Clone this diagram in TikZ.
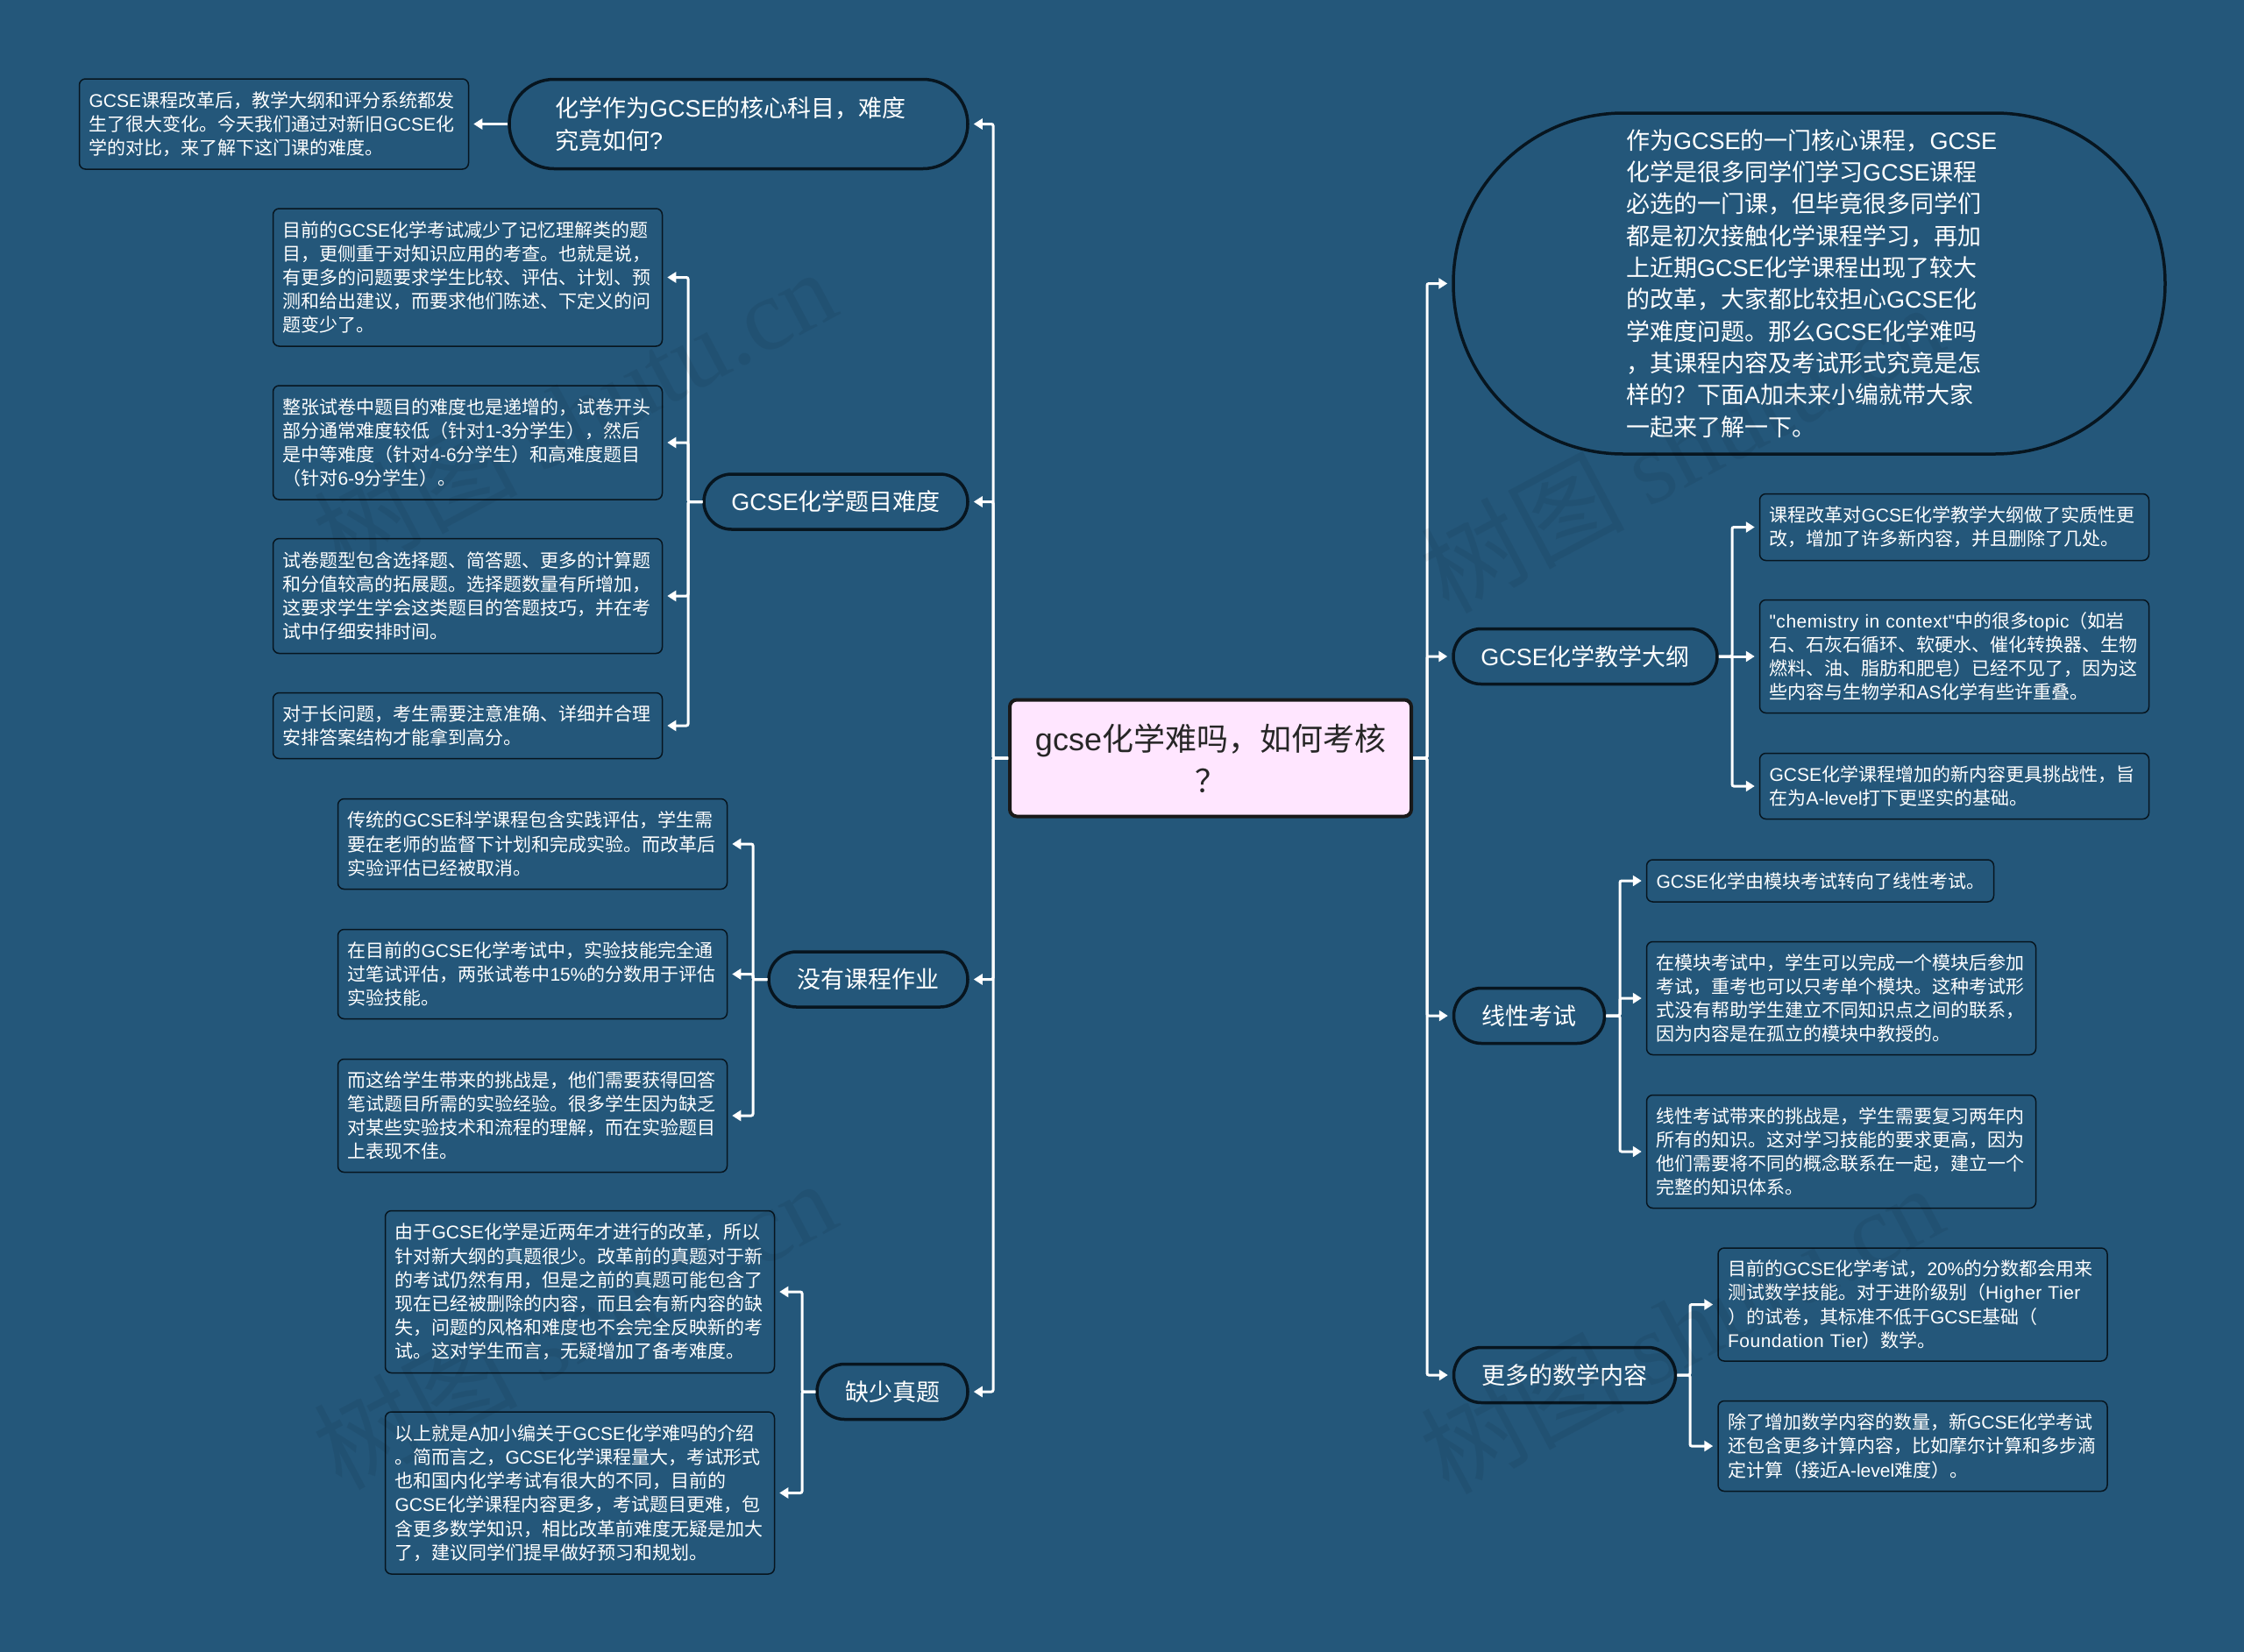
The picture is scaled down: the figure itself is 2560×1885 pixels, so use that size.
\documentclass[tikz,border=0pt]{standalone}
\usepackage{fontspec}
\usetikzlibrary{arrows.meta}
\setmainfont{Noto Sans CJK SC}
\newfontfamily\latfont{Liberation Sans}
\newfontfamily\latwide[WordSpace=1.8,LetterSpace=2.5]{Liberation Sans}
\newfontfamily\markfont{Liberation Serif}
\newcommand{\lat}[1]{{\latfont #1}}
\newcommand{\latw}[1]{{\latwide #1}}
\newcommand{\gc}{\lat{GCSE}}
\definecolor{bgblue}{HTML}{24577A}
\definecolor{inkline}{HTML}{07151F}
\definecolor{rootfill}{HTML}{FFE6FF}
\tikzset{
  leaf/.style={rectangle, draw=inkline, line width=1.5pt, rounded corners=7pt, fill=bgblue, text=white,
    inner xsep=11pt, inner ysep=0pt, align=left, text width=422pt, font=\fontsize{21}{27.2}\selectfont},
  pill/.style={rectangle, draw=inkline, line width=3.5pt, rounded corners=#1, fill=bgblue, text=white,
    inner sep=0pt, align=left, font=\fontsize{27}{36.3}\selectfont},
  wire/.style={draw=white, line width=3pt, rounded corners=2pt, shorten >=5pt, -{Triangle[length=10pt,width=12pt]}},
  mark text/.style={text=black, opacity=0.06, rotate=28, font=\fontsize{116}{116}\selectfont}
}
\begin{document}
\begin{tikzpicture}[x=1pt,y=-1pt]
\useasboundingbox (0,0) rectangle (2560,1885);
\fill[bgblue] (0,0) rectangle (2560,1885);

\coordinate (trunkL) at (1133,0);
\coordinate (trunkR) at (1628,0);
\coordinate (forkQ2) at (785,0);
\coordinate (forkQ3) at (859,0);
\coordinate (forkQ4) at (915,0);
\coordinate (forkR2) at (1976,0);
\coordinate (forkR3) at (1848,0);
\coordinate (forkR4) at (1928,0);

\node[rectangle, draw=black!90, line width=4pt, rounded corners=8pt, fill=rootfill, text=black!85, align=center,
  minimum width=458pt, minimum height=133pt, inner sep=0pt, font=\fontsize{36}{48}\selectfont] (root) at (1381,865)
  {\lat{gcse}化学难吗，如何考核\\？};

% left side
\node[pill=51pt, text width=419pt, minimum width=523pt, minimum height=102pt] (q1) at (842.5,141.5)
  {化学作为\gc{}的核心科目，难度\\究竟如何\lat{?}};
\node[leaf, minimum height=103pt] (q1a) at (312.5,141.5)
  {\gc{}课程改革后，教学大纲和评分系统都发\\生了很大变化。今天我们通过对新旧\gc{}化\\学的对比，来了解下这门课的难度。};

\node[pill=31.5pt, align=center, minimum width=301pt, minimum height=63pt] (q2) at (953.5,572.5) {\gc{}化学题目难度};
\node[leaf, minimum height=157pt] (q2a) at (533.5,316.5)
  {目前的\gc{}化学考试减少了记忆理解类的题\\目，更侧重于对知识应用的考查。也就是说，\\有更多的问题要求学生比较、评估、计划、预\\测和给出建议，而要求他们陈述、下定义的问\\题变少了。};
\node[leaf, minimum height=130pt] (q2b) at (533.5,505)
  {整张试卷中题目的难度也是递增的，试卷开头\\部分通常难度较低（针对\lat{1-3}分学生），然后\\是中等难度（针对\lat{4-6}分学生）和高难度题目\\（针对\lat{6-9}分学生）。};
\node[leaf, minimum height=131pt] (q2c) at (533.5,680)
  {试卷题型包含选择题、简答题、更多的计算题\\和分值较高的拓展题。选择题数量有所增加，\\这要求学生学会这类题目的答题技巧，并在考\\试中仔细安排时间。};
\node[leaf, minimum height=75pt] (q2d) at (533.5,828)
  {对于长问题，考生需要注意准确、详细并合理\\安排答案结构才能拿到高分。};

\node[pill=31.5pt, align=center, minimum width=227pt, minimum height=63pt] (q3) at (990.5,1117.5) {没有课程作业};
\node[leaf, minimum height=103pt] (q3a) at (607.5,963)
  {传统的\gc{}科学课程包含实践评估，学生需\\要在老师的监督下计划和完成实验。而改革后\\实验评估已经被取消。};
\node[leaf, minimum height=102pt] (q3b) at (607.5,1111.5)
  {在目前的\gc{}化学考试中，实验技能完全通\\过笔试评估，两张试卷中\lat{15\%}的分数用于评估\\实验技能。};
\node[leaf, minimum height=129pt] (q3c) at (607.5,1273)
  {而这给学生带来的挑战是，他们需要获得回答\\笔试题目所需的实验经验。很多学生因为缺乏\\对某些实验技术和流程的理解，而在实验题目\\上表现不佳。};

\node[pill=31.5pt, align=center, minimum width=172pt, minimum height=63pt] (q4) at (1018,1588) {缺少真题};
\node[leaf, minimum height=185pt] (q4a) at (661.5,1474)
  {由于\gc{}化学是近两年才进行的改革，所以\\针对新大纲的真题很少。改革前的真题对于新\\的考试仍然有用，但是之前的真题可能包含了\\现在已经被删除的内容，而且会有新内容的缺\\失，问题的风格和难度也不会完全反映新的考\\试。这对学生而言，无疑增加了备考难度。};
\node[leaf, minimum height=185pt] (q4b) at (661.5,1703.5)
  {以上就是\lat{A}加小编关于\gc{}化学难吗的介绍\\。简而言之，\gc{}化学课程量大，考试形式\\也和国内化学考试有很大的不同，目前的\\\gc{}化学课程内容更多，考试题目更难，包\\含更多数学知识，相比改革前难度无疑是加大\\了，建议同学们提早做好预习和规划。};

% right side
\node[pill=194pt, text width=418pt, minimum width=812pt, minimum height=389pt] (r1) at (2064,323.5)
  {作为\gc{}的一门核心课程，\gc{}\\化学是很多同学们学习\gc{}课程\\必选的一门课，但毕竟很多同学们\\都是初次接触化学课程学习，再加\\上近期\gc{}化学课程出现了较大\\的改革，大家都比较担心\gc{}化\\学难度问题。那么\gc{}化学难吗\\，其课程内容及考试形式究竟是怎\\样的？下面\lat{A}加未来小编就带大家\\一起来了解一下。};

\node[pill=31.5pt, align=center, minimum width=301pt, minimum height=63pt] (r2) at (1808.5,749) {\gc{}化学教学大纲};
\node[leaf, minimum height=76pt] (r2a) at (2229.5,601.5)
  {课程改革对\gc{}化学教学大纲做了实质性更\\改，增加了许多新内容，并且删除了几处。};
\node[leaf, minimum height=129pt] (r2b) at (2229.5,749)
  {\latw{"chemistry in context"}中的很多\latw{topic}（如岩\\石、石灰石循环、软硬水、催化转换器、生物\\燃料、油、脂肪和肥皂）已经不见了，因为这\\些内容与生物学和\lat{AS}化学有些许重叠。};
\node[leaf, minimum height=75pt] (r2c) at (2229.5,897)
  {\gc{}化学课程增加的新内容更具挑战性，旨\\在为\lat{A-level}打下更坚实的基础。};

\node[pill=31.5pt, align=center, minimum width=172pt, minimum height=63pt] (r3) at (1744.5,1159) {线性考试};
\node[leaf, text width=374pt, minimum height=48pt] (r3a) at (2076.5,1005)
  {\gc{}化学由模块考试转向了线性考试。};
\node[leaf, minimum height=129pt] (r3b) at (2100.5,1139)
  {在模块考试中，学生可以完成一个模块后参加\\考试，重考也可以只考单个模块。这种考试形\\式没有帮助学生建立不同知识点之间的联系，\\因为内容是在孤立的模块中教授的。};
\node[leaf, minimum height=129pt] (r3c) at (2100.5,1314)
  {线性考试带来的挑战是，学生需要复习两年内\\所有的知识。这对学习技能的要求更高，因为\\他们需要将不同的概念联系在一起，建立一个\\完整的知识体系。};

\node[pill=31.5pt, align=center, minimum width=253pt, minimum height=63pt] (r4) at (1785,1569) {更多的数学内容};
\node[leaf, minimum height=129pt] (r4a) at (2182,1488.5)
  {目前的\gc{}化学考试，\lat{20\%}的分数都会用来\\测试数学技能。对于进阶级别（\latw{Higher Tier}\\）的试卷，其标准不低于\gc{}基础（\\\latw{Foundation Tier}）数学。};
\node[leaf, minimum height=103pt] (r4b) at (2182,1650)
  {除了增加数学内容的数量，新\gc{}化学考试\\还包含更多计算内容，比如摩尔计算和多步滴\\定计算（接近\lat{A-level}难度）。};

% connectors
\draw[wire] (root.west) -- (trunkL |- root.west) |- (q1.east);
\draw[wire] (root.west) -- (trunkL |- root.west) |- (q2.east);
\draw[wire] (root.west) -- (trunkL |- root.west) |- (q3.east);
\draw[wire] (root.west) -- (trunkL |- root.west) |- (q4.east);
\draw[wire] (root.east) -- (trunkR |- root.east) |- (r1.west);
\draw[wire] (root.east) -- (trunkR |- root.east) |- (r2.west);
\draw[wire] (root.east) -- (trunkR |- root.east) |- (r3.west);
\draw[wire] (root.east) -- (trunkR |- root.east) |- (r4.west);

\draw[wire] (q1.west) -- (q1a.east);
\draw[wire] (q2.west) -- (forkQ2 |- q2.west) |- (q2a.east);
\draw[wire] (q2.west) -- (forkQ2 |- q2.west) |- (q2b.east);
\draw[wire] (q2.west) -- (forkQ2 |- q2.west) |- (q2c.east);
\draw[wire] (q2.west) -- (forkQ2 |- q2.west) |- (q2d.east);
\draw[wire] (q3.west) -- (forkQ3 |- q3.west) |- (q3a.east);
\draw[wire] (q3.west) -- (forkQ3 |- q3.west) |- (q3b.east);
\draw[wire] (q3.west) -- (forkQ3 |- q3.west) |- (q3c.east);
\draw[wire] (q4.west) -- (forkQ4 |- q4.west) |- (q4a.east);
\draw[wire] (q4.west) -- (forkQ4 |- q4.west) |- (q4b.east);

\draw[wire] (r2.east) -- (forkR2 |- r2.east) |- (r2a.west);
\draw[wire] (r2.east) -- (r2b.west);
\draw[wire] (r2.east) -- (forkR2 |- r2.east) |- (r2c.west);
\draw[wire] (r3.east) -- (forkR3 |- r3.east) |- (r3a.west);
\draw[wire] (r3.east) -- (forkR3 |- r3.east) |- (r3b.west);
\draw[wire] (r3.east) -- (forkR3 |- r3.east) |- (r3c.west);
\draw[wire] (r4.east) -- (forkR4 |- r4.east) |- (r4a.west);
\draw[wire] (r4.east) -- (forkR4 |- r4.east) |- (r4b.west);

% watermark
\node[mark text] (markA) at (655,470) {树图 {\markfont shutu.cn}};
\node[mark text] (markB) at (1918,510) {树图 {\markfont shutu.cn}};
\node[mark text] (markC) at (655,1510) {树图 {\markfont shutu.cn}};
\node[mark text] (markD) at (1918,1515) {树图 {\markfont shutu.cn}};
\end{tikzpicture}
\end{document}
